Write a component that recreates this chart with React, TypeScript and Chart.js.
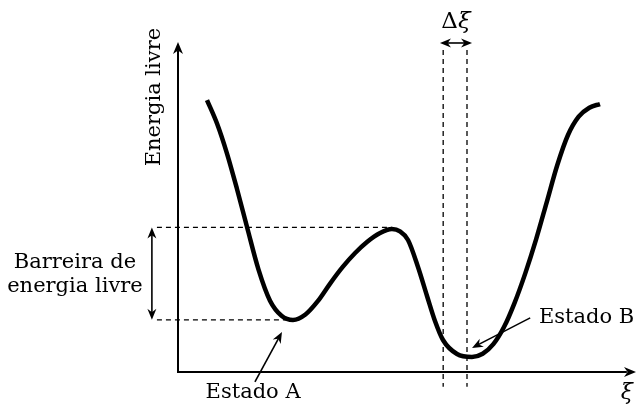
import React, { useEffect, useRef } from "react";
import { Chart, registerables } from "chart.js";

Chart.register(...registerables);

// Reaction coordinate ξ (axis runs 0..10) and free energy (axis runs 0..10)
const xi = [
  0.633, 0.852, 1.07, 1.288, 1.507, 1.758, 2.009, 2.26, 2.511,
  2.782, 3.052, 3.321, 3.592, 3.862, 4.133, 4.402, 4.672,
  4.847, 5.022, 5.24, 5.437, 5.611, 5.786, 6.092, 6.419,
  6.652, 6.885, 7.118, 7.351, 7.584, 7.817, 8.05, 8.282, 8.515, 8.748, 8.981, 9.214,
];
const energy = [
  8.242, 7.53, 6.62, 5.545, 4.394, 3.103, 2.161, 1.706, 1.576,
  1.742, 2.145, 2.679, 3.176, 3.597, 3.945, 4.203, 4.33,
  4.258, 4.0, 3.182, 2.303, 1.545, 0.97, 0.545, 0.455,
  0.552, 0.842, 1.361, 2.103, 2.997, 4.012, 5.142, 6.273, 7.182, 7.739, 8.009, 8.121,
];

// Annotation values (in axis units)
const stateA = { x: 2.51, y: 1.58 };
const barrierPeak = { x: 4.67, y: 4.38 };
const deltaXi = [5.79, 6.31];
const labels = {
  yTitle: "Energia livre",
  xTitle: "ξ",
  barrier: ["Barreira de", "energia livre"],
  stateA: "Estado A",
  stateB: "Estado B",
};

const FONT = "DejaVu Serif";

function arrowHead(ctx: CanvasRenderingContext2D, x1: number, y1: number, x2: number, y2: number, len = 11, half = 4.5) {
  const a = Math.atan2(y2 - y1, x2 - x1);
  ctx.beginPath();
  ctx.moveTo(x2, y2);
  ctx.lineTo(x2 - len * Math.cos(a) + half * Math.sin(a), y2 - len * Math.sin(a) - half * Math.cos(a));
  ctx.lineTo(x2 - len * 0.7 * Math.cos(a), y2 - len * 0.7 * Math.sin(a));
  ctx.lineTo(x2 - len * Math.cos(a) - half * Math.sin(a), y2 - len * Math.sin(a) + half * Math.cos(a));
  ctx.closePath();
  ctx.fill();
}

function arrow(ctx: CanvasRenderingContext2D, x1: number, y1: number, x2: number, y2: number, both = false, lw = 1.6) {
  ctx.lineWidth = lw;
  ctx.setLineDash([]);
  const a = Math.atan2(y2 - y1, x2 - x1);
  const back = 6;
  ctx.beginPath();
  ctx.moveTo(both ? x1 + back * Math.cos(a) : x1, both ? y1 + back * Math.sin(a) : y1);
  ctx.lineTo(x2 - back * Math.cos(a), y2 - back * Math.sin(a));
  ctx.stroke();
  arrowHead(ctx, x1, y1, x2, y2);
  if (both) arrowHead(ctx, x2, y2, x1, y1);
}

const annotations = {
  id: "annotations",
  beforeDatasetsDraw(chart: any) {
    const ctx = chart.ctx as CanvasRenderingContext2D;
    const X = (v: number) => chart.scales.x.getPixelForValue(v);
    const Y = (v: number) => chart.scales.y.getPixelForValue(v);
    ctx.save();
    ctx.strokeStyle = "#000";
    ctx.fillStyle = "#000";
    // dashed lines
    ctx.lineWidth = 1.3;
    ctx.setLineDash([5, 4]);
    ctx.beginPath();
    ctx.moveTo(X(-0.46), Y(barrierPeak.y));
    ctx.lineTo(X(barrierPeak.x), Y(barrierPeak.y));
    ctx.moveTo(X(-0.46), Y(stateA.y));
    ctx.lineTo(X(stateA.x), Y(stateA.y));
    for (const d of deltaXi) {
      ctx.moveTo(X(d), Y(9.76));
      ctx.lineTo(X(d), Y(-0.45));
    }
    ctx.stroke();
    // axes
    ctx.setLineDash([]);
    ctx.lineWidth = 2;
    ctx.beginPath();
    ctx.moveTo(X(0), Y(9.75));
    ctx.lineTo(X(0), Y(0));
    ctx.lineTo(X(9.8), Y(0));
    ctx.stroke();
    arrowHead(ctx, X(0), Y(9), X(0), Y(10), 12, 5);
    arrowHead(ctx, X(9), Y(0), X(10), Y(0), 12, 5);
    ctx.restore();
  },
  afterDatasetsDraw(chart: any) {
    const ctx = chart.ctx as CanvasRenderingContext2D;
    const X = (v: number) => chart.scales.x.getPixelForValue(v);
    const Y = (v: number) => chart.scales.y.getPixelForValue(v);
    ctx.save();
    ctx.strokeStyle = "#000";
    ctx.fillStyle = "#000";
    // barrier double arrow
    arrow(ctx, X(-0.57), Y(stateA.y), X(-0.57), Y(barrierPeak.y), true);
    // Δξ double arrow
    arrow(ctx, X(5.72), Y(9.97), X(6.42), Y(9.97), true);
    // state arrows
    arrow(ctx, X(1.68), Y(-0.3), X(2.27), Y(1.21));
    arrow(ctx, X(7.69), Y(1.64), X(6.42), Y(0.73));

    ctx.font = `21px "${FONT}"`;
    ctx.textBaseline = "middle";
    ctx.textAlign = "center";
    ctx.fillText(labels.barrier[0], X(-2.25), Y(3.33));
    ctx.fillText(labels.barrier[1], X(-2.25), Y(2.58));
    ctx.fillText(labels.stateA, X(1.64), Y(-0.62));
    ctx.textAlign = "left";
    ctx.fillText(labels.stateB, X(7.88), Y(1.64));
    // Δξ
    ctx.font = `23px "${FONT}"`;
    const dW = ctx.measureText("Δ").width;
    ctx.font = `italic 23px "${FONT}"`;
    const xW = ctx.measureText("ξ").width;
    const startX = X(6.07) - (dW + xW) / 2;
    ctx.font = `23px "${FONT}"`;
    ctx.fillText("Δ", startX, Y(10.6));
    ctx.font = `italic 23px "${FONT}"`;
    ctx.fillText("ξ", startX + dW, Y(10.6));
    // x title
    ctx.font = `italic 22px "${FONT}"`;
    ctx.textAlign = "center";
    ctx.fillText(labels.xTitle, X(9.8), Y(-0.64));
    // y title
    ctx.font = `21px "${FONT}"`;
    ctx.translate(X(-0.52), Y(8.33));
    ctx.rotate(-Math.PI / 2);
    ctx.fillText(labels.yTitle, 0, 0);
    ctx.restore();
  },
};

export default function App() {
  const ref = useRef<HTMLCanvasElement>(null);
  useEffect(() => {
    if (!ref.current) return;
    const chart = new Chart(ref.current, {
      type: "line",
      data: {
        datasets: [
          {
            data: xi.map((x, i) => ({ x, y: energy[i] })),
            borderColor: "#000",
            borderWidth: 4.5,
            pointRadius: 0,
            cubicInterpolationMode: "monotone",
            borderCapStyle: "butt",
            borderJoinStyle: "round",
            fill: false,
          },
        ],
      },
      options: {
        animation: false,
        responsive: false,
        events: [],
        layout: { padding: { left: 178, right: 0, top: 42, bottom: 33 } },
        plugins: { legend: { display: false }, tooltip: { enabled: false } },
        scales: {
          x: { type: "linear", min: 0, max: 10, display: false },
          y: { type: "linear", min: 0, max: 10, display: false },
        },
      },
      plugins: [annotations],
    });
    return () => chart.destroy();
  }, []);
  return (
    <div style={{ position: "fixed", left: 0, top: 0, width: 636, height: 405, background: "#fff" }}>
      <canvas ref={ref} width={636} height={405} />
    </div>
  );
}
